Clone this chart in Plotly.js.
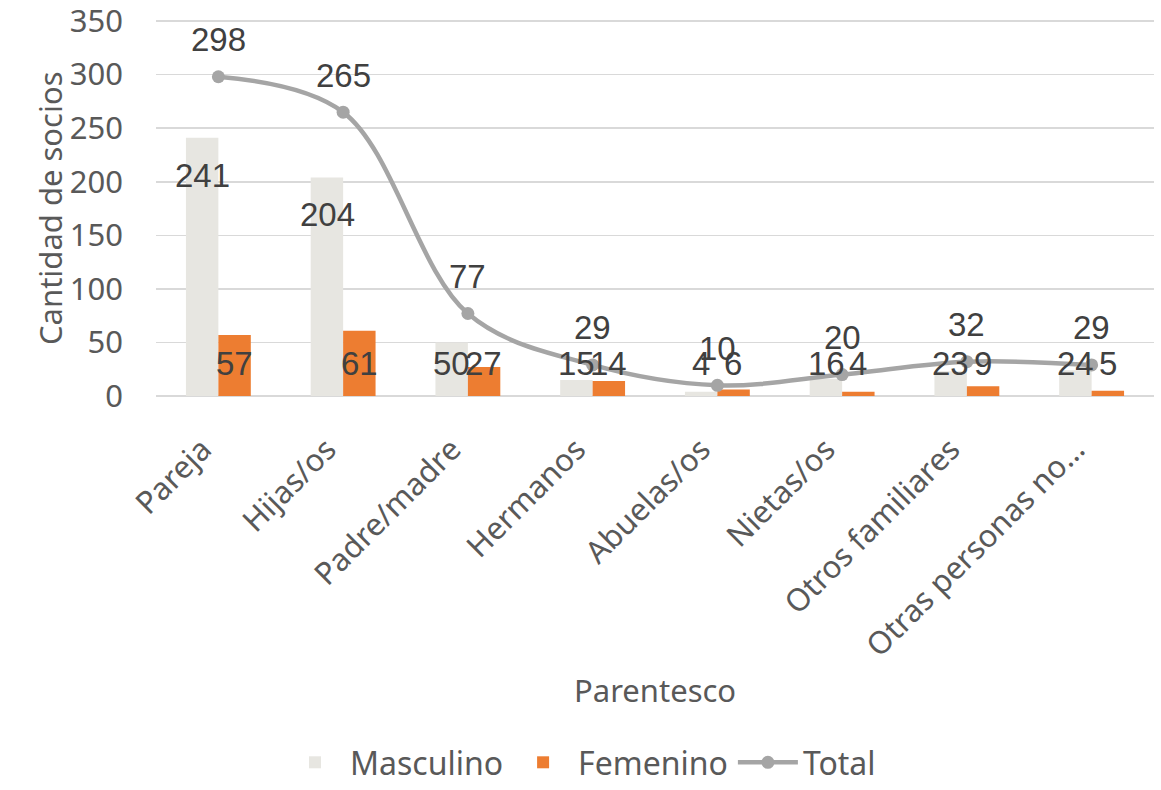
<!DOCTYPE html>
<html>
<head>
<meta charset="utf-8">
<script src="https://cdn.plot.ly/plotly-3.0.1.min.js"></script>
<style>
  html, body { margin: 0; padding: 0; background: #ffffff; }
  #chart { width: 1161px; height: 790px; }
</style>
</head>
<body>
<div id="chart"></div>
<script>
// Socios por parentesco y sexo
const categorias = ["Pareja", "Hijas/os", "Padre/madre", "Hermanos", "Abuelas/os", "Nietas/os", "Otros familiares", "Otras personas no…"];
const masculino = [241, 204, 50, 15, 4, 16, 23, 24];
const femenino  = [57, 61, 27, 14, 6, 4, 9, 5];
const total     = [298, 265, 77, 29, 10, 20, 32, 29];
const yTicks    = [0, 50, 100, 150, 200, 250, 300, 350];

const axisFont   = { family: "Noto Sans, Lato, sans-serif", size: 31, color: "#595959" };
const legendFont = { family: "Noto Sans, Lato, sans-serif", size: 32, color: "#595959" };
const labelFont  = { family: "Liberation Sans, Arial, sans-serif", size: 33, color: "#404040" };

const traces = [
  {
    type: "bar", name: "Masculino", x: categorias, y: masculino,
    marker: { color: "#e7e6e1" }, hoverinfo: "x+y"
  },
  {
    type: "bar", name: "Femenino", x: categorias, y: femenino,
    marker: { color: "#ed7d31" }, hoverinfo: "x+y"
  },
  {
    type: "scatter", mode: "lines+markers", name: "Total", x: categorias, y: total,
    line: { color: "#a5a5a5", width: 4.5, shape: "spline", smoothing: 1 },
    marker: { color: "#a5a5a5", size: 13 }
  }
];

// Value labels: bars carry theirs inside near the top, the total line above its point
const annotations = [];
const barLabelY = v => Math.max(v - 35, 30);
categorias.forEach((c, i) => {
  annotations.push({ x: c, y: barLabelY(masculino[i]), xshift: -16, text: String(masculino[i]),
    showarrow: false, font: labelFont, xanchor: "center", yanchor: "middle" });
  annotations.push({ x: c, y: barLabelY(femenino[i]), xshift: 16, text: String(femenino[i]),
    showarrow: false, font: labelFont, xanchor: "center", yanchor: "middle" });
  annotations.push({ x: c, y: total[i], yshift: 37, text: String(total[i]),
    showarrow: false, font: labelFont, xanchor: "center", yanchor: "middle" });
});

// Axis titles
annotations.push({ xref: "paper", yref: "paper", x: 0.5, y: -0.782, text: "Parentesco",
  showarrow: false, font: axisFont, xanchor: "center", yanchor: "middle" });
annotations.push({ xref: "paper", yref: "paper", x: 0, xshift: -106, y: 0.5, text: "Cantidad de socios",
  textangle: -90, showarrow: false, font: axisFont, xanchor: "center", yanchor: "middle" });

const layout = {
  width: 1161, height: 790,
  margin: { l: 156, r: 7, t: 20, b: 394, autoexpand: false },
  paper_bgcolor: "#ffffff", plot_bgcolor: "#ffffff",
  barmode: "group", bargap: 0.48, bargroupgap: 0,
  showlegend: true,
  legend: {
    orientation: "h", xref: "container", x: 0.5, xanchor: "center",
    yref: "container", y: 0, yanchor: "bottom",
    font: legendFont, itemwidth: 60, traceorder: "normal"
  },
  xaxis: {
    type: "category", tickangle: -45, tickfont: axisFont, automargin: false,
    showgrid: false, showline: false, zeroline: false, ticks: "",
    ticklabelstandoff: 28, ticklabelshift: -16, ticklabeloverflow: "allow"
  },
  yaxis: {
    range: [0, 351], tickvals: yTicks, ticktext: yTicks.map(String), tickfont: axisFont,
    automargin: false, ticklabeloverflow: "allow",
    showgrid: true, gridcolor: "#d9d9d9", gridwidth: 1.5,
    zeroline: true, zerolinecolor: "#d9d9d9", zerolinewidth: 1.5,
    showline: false, ticks: "", ticklabelstandoff: 32
  },
  annotations: annotations,
  hovermode: "closest"
};

Plotly.newPlot("chart", traces, layout, { displayModeBar: false, staticPlot: true });
</script>
</body>
</html>
